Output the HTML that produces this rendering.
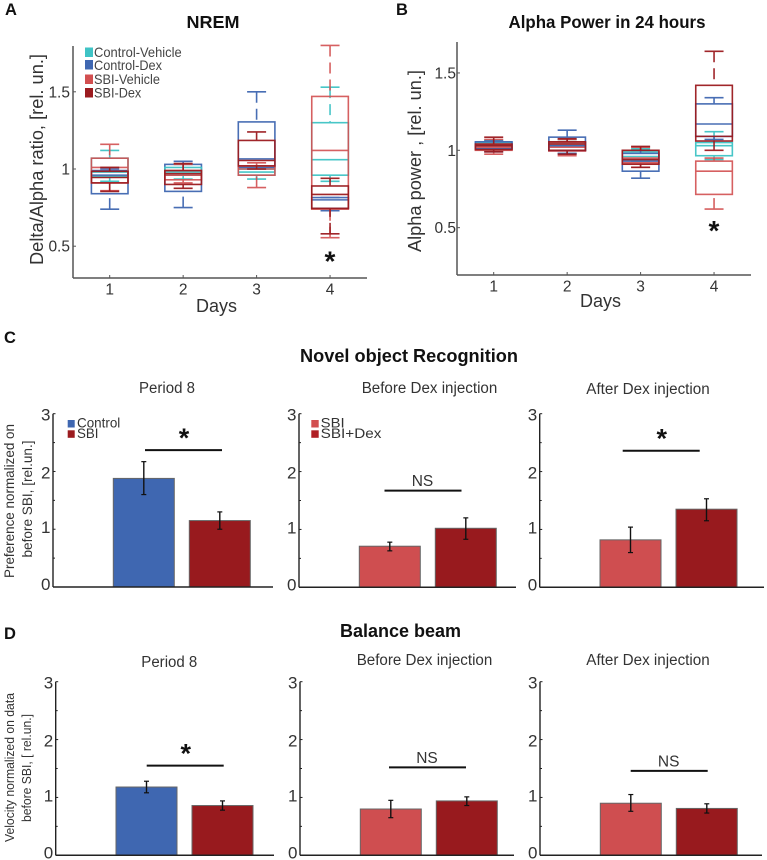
<!DOCTYPE html>
<html lang="en">
<head>
<meta charset="utf-8">
<title>Sleep and behaviour figure</title>
<style>
html,body{margin:0;padding:0;background:#fff;width:767px;height:860px;overflow:hidden}
svg{display:block;filter:blur(.3px)}
text{font-family:"Liberation Sans",Arial,sans-serif;fill:#222}
.title{font-weight:bold;fill:#111}
.letter{font-weight:bold;fill:#111;font-size:16.5px}
.sub{font-size:15.5px;fill:#333}
</style>
</head>
<body>
<svg id="figure" xmlns="http://www.w3.org/2000/svg" width="767" height="860" viewBox="0 0 767 860">
  <rect width="767" height="860" fill="#fff"/>
  <text class="letter" x="5" y="15">A</text>
  <text class="letter" x="396" y="15">B</text>
  <text class="letter" x="4" y="343">C</text>
  <text class="letter" x="4" y="639">D</text>

  <text class="title" x="213" y="28" text-anchor="middle" font-size="17.5" textLength="53" lengthAdjust="spacingAndGlyphs">NREM</text>
  <text class="title" x="607" y="28" text-anchor="middle" font-size="17.5" textLength="197" lengthAdjust="spacingAndGlyphs">Alpha Power in 24 hours</text>
  <text class="title" x="409" y="362" text-anchor="middle" font-size="18" textLength="218" lengthAdjust="spacingAndGlyphs">Novel object Recognition</text>
  <text class="title" x="400.5" y="637" text-anchor="middle" font-size="18" textLength="121" lengthAdjust="spacingAndGlyphs">Balance beam</text>

  <text transform="translate(43,159.5) rotate(-90)" text-anchor="middle" font-size="18.5" textLength="211" lengthAdjust="spacingAndGlyphs" style="fill:#333">Delta/Alpha ratio, [rel. un.]</text>
  <text x="216.5" y="312" text-anchor="middle" font-size="18.5" textLength="41" lengthAdjust="spacingAndGlyphs" style="fill:#333">Days</text>
  <text transform="translate(421,161) rotate(-90)" text-anchor="middle" font-size="18.5" textLength="182" lengthAdjust="spacingAndGlyphs" style="fill:#333">Alpha power , [rel. un.]</text>
  <text x="600.5" y="307" text-anchor="middle" font-size="18.5" textLength="41" lengthAdjust="spacingAndGlyphs" style="fill:#333">Days</text>

  <text transform="translate(14,501) rotate(-90)" text-anchor="middle" font-size="14" textLength="154" lengthAdjust="spacingAndGlyphs" style="fill:#333">Preference normalized on</text>
  <text transform="translate(32,499) rotate(-90)" text-anchor="middle" font-size="14" textLength="117" lengthAdjust="spacingAndGlyphs" style="fill:#333">before SBI, [rel.un.]</text>
  <text transform="translate(14,767.5) rotate(-90)" text-anchor="middle" font-size="13" textLength="149" lengthAdjust="spacingAndGlyphs" style="fill:#333">Velocity normalized on data</text>
  <text transform="translate(31,768) rotate(-90)" text-anchor="middle" font-size="13" textLength="108" lengthAdjust="spacingAndGlyphs" style="fill:#333">before SBI, [ rel.un.]</text>

  <text class="sub" x="167" y="393" text-anchor="middle" textLength="56" lengthAdjust="spacingAndGlyphs">Period 8</text>
  <text class="sub" x="429.5" y="393" text-anchor="middle" textLength="135.6" lengthAdjust="spacingAndGlyphs">Before Dex injection</text>
  <text class="sub" x="648" y="394" text-anchor="middle" textLength="123.4" lengthAdjust="spacingAndGlyphs">After Dex injection</text>
  <text class="sub" x="169.3" y="667" text-anchor="middle" textLength="56" lengthAdjust="spacingAndGlyphs">Period 8</text>
  <text class="sub" x="424.5" y="665" text-anchor="middle" textLength="135.6" lengthAdjust="spacingAndGlyphs">Before Dex injection</text>
  <text class="sub" x="648" y="665" text-anchor="middle" textLength="123.4" lengthAdjust="spacingAndGlyphs">After Dex injection</text>

  <g>
    <rect x="85" y="47.5" width="8" height="9.5" fill="#3fc3c5"/>
    <text x="94" y="57" font-size="13.6" textLength="87.7" lengthAdjust="spacingAndGlyphs" style="fill:#444">Control-Vehicle</text>
    <rect x="85" y="60" width="8" height="9.5" fill="#3f67b1"/>
    <text x="94" y="70" font-size="13.6" textLength="68" lengthAdjust="spacingAndGlyphs" style="fill:#444">Control-Dex</text>
    <rect x="85" y="74.5" width="8" height="9.5" fill="#d24f50"/>
    <text x="94" y="84" font-size="13.6" textLength="66" lengthAdjust="spacingAndGlyphs" style="fill:#444">SBI-Vehicle</text>
    <rect x="85" y="88" width="8" height="9.5" fill="#9b1b1f"/>
    <text x="94" y="97.5" font-size="13.6" textLength="47.3" lengthAdjust="spacingAndGlyphs" style="fill:#444">SBI-Dex</text>
  </g>
  <g>
    <rect x="67.7" y="420" width="7" height="7.5" fill="#3f67b1"/>
    <text x="77" y="427.5" font-size="13.8" textLength="43.3" lengthAdjust="spacingAndGlyphs" style="fill:#333">Control</text>
    <rect x="67.7" y="430.3" width="7" height="7.5" fill="#9b1b1f"/>
    <text x="77" y="437.8" font-size="13.8" textLength="21.5" lengthAdjust="spacingAndGlyphs" style="fill:#333">SBI</text>
  </g>
  <g>
    <rect x="311.3" y="420" width="7.4" height="7.5" fill="#d24f50"/>
    <text x="320.7" y="427.5" font-size="14" textLength="24" lengthAdjust="spacingAndGlyphs" style="fill:#333">SBI</text>
    <rect x="311.3" y="430.3" width="7.4" height="7.5" fill="#b01f25"/>
    <text x="320.7" y="438" font-size="14" textLength="60.7" lengthAdjust="spacingAndGlyphs" style="fill:#333">SBI+Dex</text>
  </g>
</svg>
<script>
// ---------- Box-plot data: each entry is [low, q1, median, q3, high] for one day ----------
const dayLabels = ['1', '2', '3', '4'];
const boxYTicks = [0.5, 1, 1.5];
const boxYTickLabels = ['0.5', '1', '1.5'];

const nremControlDex = [[0.74, 0.84, 0.96, 0.99, 1.00], [0.75, 0.855, 0.96, 1.03, 1.05], [1.00, 1.01, 1.065, 1.305, 1.50], [0.73, 0.745, 0.80, 0.815, 0.815]];
const nremControlVehicle = [[0.92, 0.95, 0.98, 1.07, 1.12], [0.935, 0.96, 0.98, 1.01, 1.03], [0.935, 0.96, 0.98, 1.00, 1.02], [0.92, 0.96, 1.06, 1.30, 1.53]];
const nremSbiVehicle = [[0.86, 0.91, 1.01, 1.07, 1.16], [0.91, 0.93, 0.96, 0.99, 1.03], [0.88, 0.96, 1.00, 1.02, 1.04], [0.555, 0.74, 1.12, 1.47, 1.80]];
const nremSbiDex = [[0.855, 0.91, 0.945, 0.985, 1.01], [0.875, 0.90, 0.97, 0.99, 1.035], [1.00, 1.02, 1.055, 1.185, 1.24], [0.58, 0.745, 0.835, 0.89, 0.94]];

const alphaControlDex = [[0.99, 1.01, 1.03, 1.055, 1.06], [0.98, 1.00, 1.03, 1.085, 1.13], [0.82, 0.865, 0.93, 0.98, 1.00], [1.07, 1.09, 1.17, 1.30, 1.34]];
const alphaControlVehicle = [[1.00, 1.01, 1.03, 1.05, 1.065], [0.98, 1.00, 1.03, 1.05, 1.07], [0.93, 0.94, 0.96, 0.99, 1.01], [0.94, 0.965, 1.03, 1.05, 1.12]];
const alphaSbiVehicle = [[0.975, 1.00, 1.02, 1.04, 1.07], [0.965, 0.995, 1.02, 1.05, 1.07], [0.89, 0.92, 0.95, 1.00, 1.02], [0.62, 0.715, 0.865, 0.93, 0.95]];
const alphaSbiDex = [[0.99, 1.005, 1.03, 1.04, 1.085], [0.975, 1.00, 1.04, 1.055, 1.075], [0.89, 0.91, 0.94, 1.00, 1.025], [1.00, 1.06, 1.09, 1.42, 1.64]];

// ---------- Bar data ----------
const barYTicks = [0, 1, 2, 3];
const barYTickLabels = ['0', '1', '2', '3'];
const barYMinorTicks = [0.5, 1.5, 2.5];

const novelPeriod8Means = [1.88, 1.15];
const novelPeriod8Lower = [1.60, 1.00];
const novelPeriod8Upper = [2.17, 1.30];
const novelPeriod8Bracket = 2.37;

const novelBeforeMeans = [0.71, 1.02];
const novelBeforeLower = [0.63, 0.83];
const novelBeforeUpper = [0.78, 1.20];
const novelBeforeBracket = 1.67;

const novelAfterMeans = [0.82, 1.35];
const novelAfterLower = [0.60, 1.15];
const novelAfterUpper = [1.04, 1.53];
const novelAfterBracket = 2.36;

const balancePeriod8Means = [1.18, 0.86];
const balancePeriod8Lower = [1.08, 0.78];
const balancePeriod8Upper = [1.28, 0.94];
const balancePeriod8Bracket = 1.55;

const balanceBeforeMeans = [0.80, 0.94];
const balanceBeforeLower = [0.65, 0.86];
const balanceBeforeUpper = [0.95, 1.01];
const balanceBeforeBracket = 1.52;

const balanceAfterMeans = [0.90, 0.81];
const balanceAfterLower = [0.76, 0.73];
const balanceAfterUpper = [1.05, 0.89];
const balanceAfterBracket = 1.46;

// ---------- Drawing ----------
const NS = 'http://www.w3.org/2000/svg';
const root = document.getElementById('figure');
const AXIS = '#555';

function make(tag, attrs, parent) {
  const el = document.createElementNS(NS, tag);
  for (const k in attrs) el.setAttribute(k, attrs[k]);
  parent.appendChild(el);
  return el;
}
function line(x1, y1, x2, y2, stroke, width, parent) {
  return make('line', { x1: x1, y1: y1, x2: x2, y2: y2, stroke: stroke, 'stroke-width': width }, parent);
}
function label(x, y, str, size, anchor, parent) {
  const t = make('text', { x: x, y: y, 'font-size': size, 'text-anchor': anchor }, parent);
  t.textContent = str;
  t.style.fill = '#333';
  return t;
}
function star(cx, cy, size, name) {
  const t = make('text', { x: cx, y: cy + size * 0.46, 'font-size': size, 'text-anchor': 'middle', 'font-weight': 'bold' }, root);
  t.textContent = '*';
  t.style.fill = '#111';
  
  
}

function drawBox(stats, xc, y, halfW, color, opacity, group) {
  const low = stats[0], q1 = stats[1], med = stats[2], q3 = stats[3], high = stats[4];
  const g = make('g', { opacity: opacity }, group);
  
  
  const sw = 1.6;

  const upper = line(xc, y(high), xc, y(q3), color, sw, g);
  upper.setAttribute('stroke-dasharray', '11 6');
  
  

  const lower = line(xc, y(low), xc, y(q1), color, sw, g);
  lower.setAttribute('stroke-dasharray', '11 6');
  
  

  const capHigh = line(xc - 9.5, y(high), xc + 9.5, y(high), color, sw, g);
  
  

  const capLow = line(xc - 9.5, y(low), xc + 9.5, y(low), color, sw, g);
  
  

  const box = make('rect', { x: xc - halfW, y: y(q3), width: halfW * 2, height: y(q1) - y(q3), fill: 'none', stroke: color, 'stroke-width': sw }, g);
  
  

  const median = line(xc - halfW, y(med), xc + halfW, y(med), color, sw, g);
  
  
}

function drawBoxPanel(name, left, right, top, bottom, x1, dx, y1, unit, labelEnd, series) {
  const g = make('g', {}, root);
  
  
  const x = function (i) { return x1 + i * dx; };
  const y = function (v) { return y1 - (v - 1) * unit; };

  const yAxis = line(left, top, left, bottom, AXIS, 1.5, g);
  
  
  const xAxis = line(left, bottom, right, bottom, AXIS, 1.5, g);
  
  

  boxYTicks.forEach(function (v, i) {
    const tick = line(left, y(v), left + 3, y(v), AXIS, 1, g);
    
    
    const tl = label(labelEnd, y(v) + 5.5, boxYTickLabels[i], 15.5, 'end', g);
    
    
  });
  dayLabels.forEach(function (d, i) {
    const tick = line(x(i), bottom, x(i), bottom - 3, AXIS, 1, g);
    
    
    const tl = label(x(i), bottom + 16.5, d, 15.5, 'middle', g);
    
    
  });
  series.forEach(function (s) {
    s.values.forEach(function (stats, i) {
      drawBox(stats, x(i), y, 18.3, s.color, s.opacity, g);
    });
  });
}

function drawBarPanel(name, left, right, top, bottom, means, lower, upper, colors, bracket, bracketX, bracketLabel) {
  const g = make('g', {}, root);
  
  
  const unit = (bottom - top) / 3;
  const y = function (v) { return bottom - v * unit; };
  const barX = function (i) { return left + 60.3 + i * 76; };
  const barW = 61;

  means.forEach(function (m, i) {
    const bar = make('rect', { x: barX(i), y: y(m), width: barW, height: bottom - y(m), fill: colors[i], stroke: '#666', 'stroke-width': 1 }, g);
    
    

    const xc = barX(i) + barW / 2;
    const stem = line(xc, y(upper[i]), xc, y(lower[i]), '#111', 1.4, g);
    
    
    const capTop = line(xc - 2.5, y(upper[i]), xc + 2.5, y(upper[i]), '#111', 1.2, g);
    
    
    const capBottom = line(xc - 2.5, y(lower[i]), xc + 2.5, y(lower[i]), '#111', 1.2, g);
    
    
  });

  const yAxis = line(left, top, left, bottom, '#222', 1.4, g);
  
  
  const xAxis = line(left, bottom, right, bottom, '#222', 1.5, g);
  
  

  barYTicks.forEach(function (v, i) {
    const tick = line(left, y(v), left + 2.5, y(v), '#222', 1, g);
    
    
    const tl = label(left - 2.5, y(v) + 6 + (v === 0 ? -3 : v === 1 ? -2 : 1), barYTickLabels[i], 17, 'end', g);
    
    
  });
  barYMinorTicks.forEach(function (v) {
    const tick = line(left, y(v), left + 2, y(v), '#222', 1, g);
    
    
  });

  const by = y(bracket);
  const br = line(bracketX, by, bracketX + 77, by, '#111', 2, g);
  
  
  if (bracketLabel === '*') {
    star(bracketX + 39, by - 15.5, 27, name + '-significance-star');
  } else {
    const ns = label(bracketX + 38, by - 4.5, bracketLabel, 15.5, 'middle', g);
    
    
  }
}

const CYAN = '#3fc3c5', BLUE = '#3f67b1', LIGHT = '#d24f50', DARK = '#9b1b1f';

drawBoxPanel('nrem-boxplot', 73, 367, 46, 278, 109.7, 73.45, 169, 154.4, 70, [
  { values: nremControlDex, color: BLUE, opacity: 0.95 },
  { values: nremControlVehicle, color: CYAN, opacity: 0.95 },
  { values: nremSbiVehicle, color: LIGHT, opacity: 0.9 },
  { values: nremSbiDex, color: DARK, opacity: 0.95 }
]);
star(330, 257.5, 28, 'nrem-significance-star');

drawBoxPanel('alpha-power-boxplot', 457, 751, 42, 275, 493.7, 73.45, 150.3, 154.7, 456, [
  { values: alphaControlVehicle, color: CYAN, opacity: 0.95 },
  { values: alphaSbiVehicle, color: LIGHT, opacity: 0.9 },
  { values: alphaControlDex, color: BLUE, opacity: 0.95 },
  { values: alphaSbiDex, color: DARK, opacity: 0.95 }
]);
star(714, 227, 28, 'alpha-power-significance-star');

const BAR_BLUE = '#3f67b1', BAR_DARK = '#981a1e', BAR_LIGHT = '#cf4e50';
drawBarPanel('novel-period-8-chart', 53, 273, 413.7, 587, novelPeriod8Means, novelPeriod8Lower, novelPeriod8Upper, [BAR_BLUE, BAR_DARK], novelPeriod8Bracket, 145, '*');
drawBarPanel('novel-before-dex-chart', 299, 516, 413.7, 587.3, novelBeforeMeans, novelBeforeLower, novelBeforeUpper, [BAR_LIGHT, BAR_DARK], novelBeforeBracket, 384.5, 'NS');
drawBarPanel('novel-after-dex-chart', 539.7, 764, 413.7, 587.3, novelAfterMeans, novelAfterLower, novelAfterUpper, [BAR_LIGHT, BAR_DARK], novelAfterBracket, 622.7, '*');
drawBarPanel('balance-period-8-chart', 55.7, 274, 681.7, 855.3, balancePeriod8Means, balancePeriod8Lower, balancePeriod8Upper, [BAR_BLUE, BAR_DARK], balancePeriod8Bracket, 146.7, '*');
drawBarPanel('balance-before-dex-chart', 300, 514, 681.7, 855.3, balanceBeforeMeans, balanceBeforeLower, balanceBeforeUpper, [BAR_LIGHT, BAR_DARK], balanceBeforeBracket, 389, 'NS');
drawBarPanel('balance-after-dex-chart', 540, 762, 681.7, 855.3, balanceAfterMeans, balanceAfterLower, balanceAfterUpper, [BAR_LIGHT, BAR_DARK], balanceAfterBracket, 630.7, 'NS');
</script>
</body>
</html>
